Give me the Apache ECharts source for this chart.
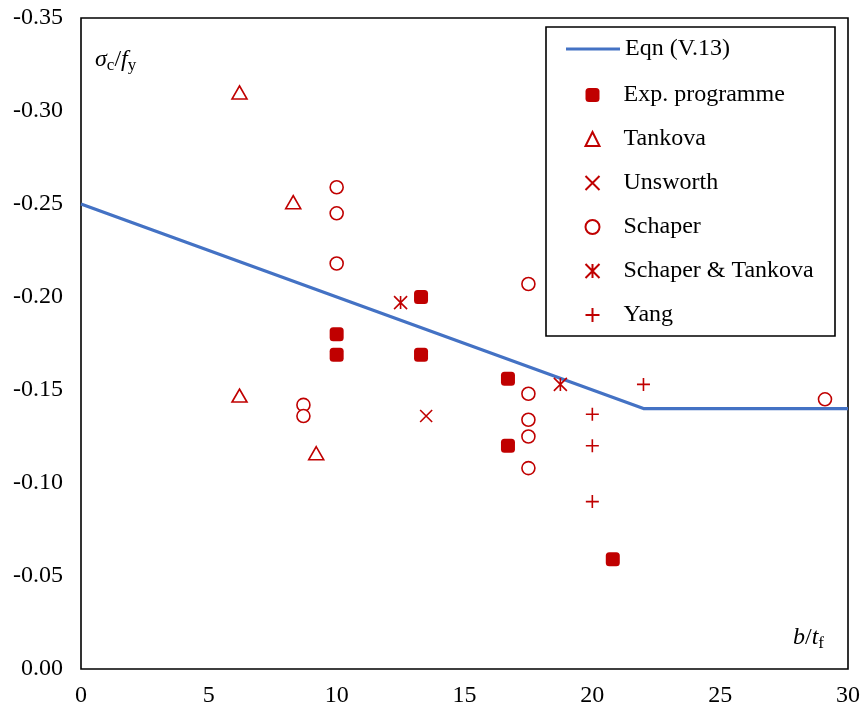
<!DOCTYPE html>
<html><head><meta charset="utf-8">
<script src="https://cdn.jsdelivr.net/npm/echarts@6/dist/echarts.min.js"></script>
<style>html,body{margin:0;padding:0;background:#fff}#c{width:863px;height:711px}</style>
</head><body><div id="c"></div>
<script>
// ---- data ----
const eqnLine = [[0, -0.25], [22, -0.14], [30, -0.14]];
const expProgramme = [[10, -0.180], [10, -0.169], [13.3, -0.200], [13.3, -0.169], [16.7, -0.156], [16.7, -0.120], [20.8, -0.059]];
const tankova = [[6.2, -0.310], [8.3, -0.251], [6.2, -0.147], [9.2, -0.116]];
const unsworth = [[13.5, -0.136]];
const schaper = [[10, -0.259], [10, -0.245], [10, -0.218], [8.7, -0.142], [8.7, -0.136], [17.5, -0.207], [17.5, -0.148], [17.5, -0.134], [17.5, -0.125], [17.5, -0.108], [29.1, -0.145]];
const schaperTankova = [[12.5, -0.197], [18.75, -0.153]];
const yang = [[22, -0.153], [20, -0.137], [20, -0.120], [20, -0.090]];
const seriesNames = ['Eqn (V.13)', 'Exp. programme', 'Tankova', 'Unsworth', 'Schaper', 'Schaper & Tankova', 'Yang'];

const RED = '#C00000', BLUE = '#4472C4';
const FONT = 'Liberation Serif';
const FS = 24;
const openStyle = {color: '#fff', borderColor: RED, borderWidth: 1.6, opacity: 1};
const strokeStyle = {color: 'none', borderColor: RED, borderWidth: 1.6, opacity: 1};
const crossPath = 'path://M0,0L10,10M10,0L0,10';
const starPath = 'path://M0,0L10,10M10,0L0,10M5,0L5,10';
const plusPath = 'path://M5,0L5,10M0,5L10,5';

const chart = echarts.init(document.getElementById('c'), null, {renderer: 'canvas'});
const legendText = {fontFamily: FONT, fontSize: FS, color: '#000'};
chart.setOption({
  animation: false,
  backgroundColor: '#fff',
  grid: {left: 81, right: 15, top: 18, bottom: 42, show: true, borderColor: '#000', borderWidth: 1.6, backgroundColor: 'transparent'},
  xAxis: {
    type: 'value', min: 0, max: 30, interval: 5,
    axisLine: {show: false}, axisTick: {show: false}, splitLine: {show: false},
    axisLabel: {fontFamily: FONT, fontSize: FS, color: '#000', margin: 15}
  },
  yAxis: {
    type: 'value', min: -0.35, max: 0, interval: 0.05, inverse: true,
    axisLine: {show: false}, axisTick: {show: false}, splitLine: {show: false},
    axisLabel: {fontFamily: FONT, fontSize: FS, color: '#000', margin: 18, padding: [4, 0, 0, 0], formatter: v => v.toFixed(2)}
  },
  legend: [
    {
      left: 566, top: 37, orient: 'vertical', align: 'left', padding: 0, z: 20,
      itemWidth: 54, itemHeight: 14, itemGap: 20, textStyle: legendText,
      data: [{name: seriesNames[0], icon: 'path://M0,0L54,0L54,3L0,3Z'}]
    },
    {
      left: 583, top: 83, orient: 'vertical', align: 'left', padding: 0, z: 20,
      itemWidth: 14, itemHeight: 14, itemGap: 20,
      textStyle: Object.assign({padding: [0, 0, 0, 19]}, legendText),
      data: [
        {name: seriesNames[1], icon: 'roundRect'},
        {name: seriesNames[2], icon: 'triangle'},
        {name: seriesNames[3], icon: crossPath},
        {name: seriesNames[4], icon: 'circle'},
        {name: seriesNames[5], icon: starPath},
        {name: seriesNames[6], icon: plusPath}
      ]
    }
  ],
  graphic: [
    {type: 'rect', shape: {x: 546, y: 27, width: 289, height: 309}, style: {fill: '#fff', stroke: '#000', lineWidth: 1.6}, z: 10},
    {type: 'text', left: 95, top: 48, z: 6, style: {
      text: '{i|σ}{s|c}{n|/}{i|f}{s|y}', rich: {
        i: {fontFamily: FONT, fontStyle: 'italic', fontSize: FS, fill: '#000'},
        n: {fontFamily: FONT, fontSize: FS, fill: '#000'},
        s: {fontFamily: FONT, fontSize: 17, fill: '#000', padding: [12, 0, 0, 0]}
      }}},
    {type: 'text', left: 793, top: 626, z: 6, style: {
      text: '{i|b}{n|/}{i|t}{s|f}', rich: {
        i: {fontFamily: FONT, fontStyle: 'italic', fontSize: FS, fill: '#000'},
        n: {fontFamily: FONT, fontSize: FS, fill: '#000'},
        s: {fontFamily: FONT, fontSize: 17, fill: '#000', padding: [12, 0, 0, 0]}
      }}}
  ],
  series: [
    {name: seriesNames[0], type: 'line', data: eqnLine, symbol: 'none', lineStyle: {color: BLUE, width: 3.2}, itemStyle: {color: BLUE}, z: 1},
    {name: seriesNames[1], type: 'scatter', data: expProgramme, symbol: 'roundRect', symbolSize: 14, itemStyle: {color: RED, opacity: 1}, z: 3},
    {name: seriesNames[2], type: 'scatter', data: tankova, symbol: 'triangle', symbolSize: [15, 13], itemStyle: openStyle, z: 3},
    {name: seriesNames[3], type: 'scatter', data: unsworth, symbol: crossPath, symbolSize: 12, itemStyle: strokeStyle, z: 3},
    {name: seriesNames[4], type: 'scatter', data: schaper, symbol: 'circle', symbolSize: 13, itemStyle: openStyle, z: 3},
    {name: seriesNames[5], type: 'scatter', data: schaperTankova, symbol: starPath, symbolSize: 13, itemStyle: strokeStyle, z: 3},
    {name: seriesNames[6], type: 'scatter', data: yang, symbol: plusPath, symbolSize: 13, itemStyle: strokeStyle, z: 3}
  ]
});
</script></body></html>
